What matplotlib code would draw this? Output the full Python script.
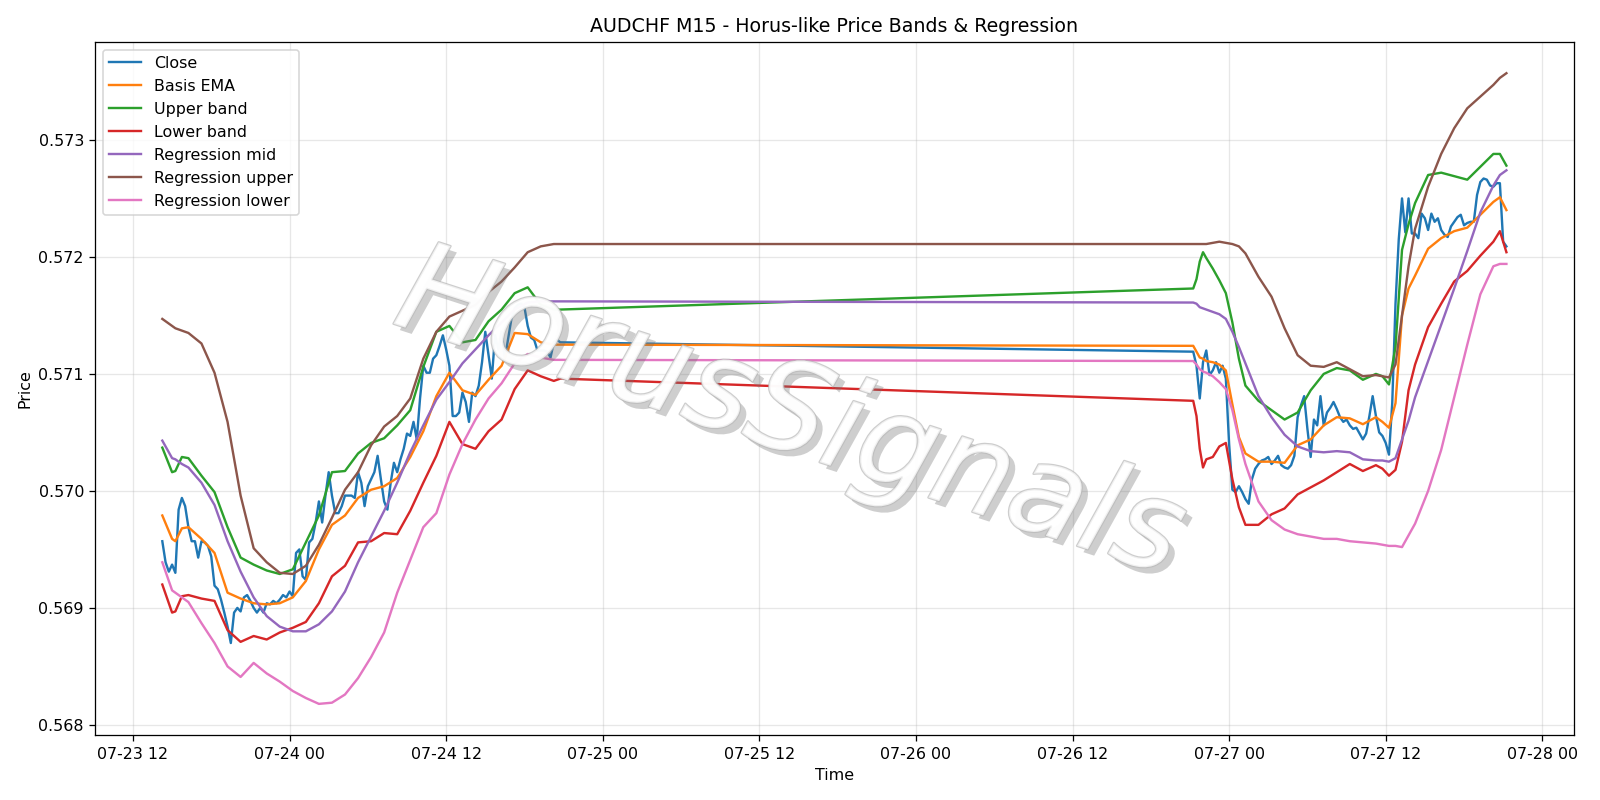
import pandas as pd
import matplotlib
matplotlib.use("Agg")
import matplotlib.pyplot as plt
import matplotlib.dates as mdates
import matplotlib.patheffects as pe

# 15 minute bars: Thursday afternoon -> Friday close, then Sunday open -> Monday evening
seg1_start = "2020-07-23 14:15"
seg2_start = "2020-07-26 21:15"

close_seg1 = [
    0.56957, 0.56939, 0.56931, 0.56937, 0.56930, 0.56984, 0.56994, 0.56987, 0.56969, 0.56957,
    0.56957, 0.56943, 0.56957, 0.56956, 0.56953, 0.56944, 0.56919, 0.56916, 0.56907, 0.56896,
    0.56884, 0.56870, 0.56896, 0.56900, 0.56897, 0.56909, 0.56911, 0.56906, 0.56900, 0.56896,
    0.56900, 0.56896, 0.56904, 0.56903, 0.56906, 0.56904, 0.56907, 0.56911, 0.56909, 0.56914,
    0.56910, 0.56947, 0.56950, 0.56927, 0.56924, 0.56956, 0.56959, 0.56973, 0.56991, 0.56973,
    0.56996, 0.57016, 0.56996, 0.56981, 0.56981, 0.56987, 0.56996, 0.56996, 0.56996, 0.56994,
    0.57016, 0.57007, 0.56987, 0.57004, 0.57010, 0.57016, 0.57030, 0.57010, 0.56991, 0.56984,
    0.57007, 0.57024, 0.57016, 0.57027, 0.57036, 0.57049, 0.57047, 0.57059, 0.57044, 0.57079,
    0.57107, 0.57101, 0.57101, 0.57113, 0.57116, 0.57124, 0.57133, 0.57121, 0.57107, 0.57064,
    0.57064, 0.57067, 0.57084, 0.57076, 0.57059, 0.57084, 0.57081, 0.57090, 0.57110, 0.57136,
    0.57116, 0.57096, 0.57133, 0.57121, 0.57136, 0.57113, 0.57130, 0.57147, 0.57156, 0.57159,
    0.57160, 0.57157, 0.57141, 0.57131, 0.57129, 0.57120, 0.57120, 0.57120, 0.57119, 0.57114,
    0.57127, 0.57129, 0.57127,
]
close_seg2 = [
    0.57119, 0.57107, 0.57079, 0.57110, 0.57120, 0.57099, 0.57103, 0.57110, 0.57101, 0.57107,
    0.57096, 0.57040, 0.57001, 0.56999, 0.57004, 0.56999, 0.56993, 0.56989, 0.57010, 0.57019,
    0.57023, 0.57026, 0.57027, 0.57029, 0.57023, 0.57026, 0.57030, 0.57022, 0.57020, 0.57019,
    0.57022, 0.57030, 0.57063, 0.57073, 0.57081, 0.57053, 0.57029, 0.57061, 0.57056, 0.57081,
    0.57056, 0.57067, 0.57071, 0.57076, 0.57070, 0.57063, 0.57059, 0.57061, 0.57056, 0.57053,
    0.57054, 0.57049, 0.57044, 0.57049, 0.57064, 0.57081, 0.57064, 0.57050, 0.57047, 0.57041,
    0.57031, 0.57075, 0.57160, 0.57215, 0.57250, 0.57221, 0.57250, 0.57220, 0.57220, 0.57216,
    0.57237, 0.57233, 0.57223, 0.57237, 0.57230, 0.57233, 0.57223, 0.57219, 0.57217, 0.57226,
    0.57230, 0.57234, 0.57236, 0.57227, 0.57229, 0.57230, 0.57230, 0.57253, 0.57264, 0.57267,
    0.57266, 0.57261, 0.57260, 0.57263, 0.57263, 0.57213, 0.57209,
]

band_idx_seg1 = [0, 3, 4, 6, 8, 12, 16, 20, 24, 28, 32, 36, 40, 44, 48, 52, 56, 60, 64, 68,
                 72, 76, 80, 84, 88, 92, 96, 100, 104, 108, 112, 116, 120, 122]
band_idx_seg2 = [0, 1, 2, 3, 4, 6, 8, 10, 12, 14, 16, 20, 24, 28, 32, 36, 40, 44, 48, 52,
                 56, 58, 60, 62, 64, 66, 68, 72, 76, 80, 84, 88, 92, 94, 96]

basis_ema = [
    0.56979, 0.56959, 0.56957, 0.56968, 0.56969, 0.56959, 0.56947, 0.56913, 0.56908, 0.56904,
    0.56903, 0.56904, 0.56909, 0.56923, 0.56950, 0.56971, 0.56979, 0.56994, 0.57001, 0.57004,
    0.57011, 0.57029, 0.57051, 0.57081, 0.57101, 0.57086, 0.57082, 0.57095, 0.57107, 0.57135,
    0.57134, 0.57127, 0.57125, 0.57125,
    0.57124, 0.57119, 0.57114, 0.57113, 0.57111, 0.57110, 0.57108, 0.57103, 0.57074, 0.57046,
    0.57032, 0.57025, 0.57025, 0.57024, 0.57039, 0.57044, 0.57056, 0.57063, 0.57062, 0.57057,
    0.57063, 0.57059, 0.57054, 0.57075, 0.57150, 0.57173, 0.57184, 0.57207, 0.57216, 0.57222,
    0.57225, 0.57236, 0.57247, 0.57251, 0.57240,
]
upper_band = [
    0.57037, 0.57016, 0.57017, 0.57029, 0.57028, 0.57013, 0.56999, 0.56969, 0.56943, 0.56937,
    0.56932, 0.56929, 0.56933, 0.56956, 0.56979, 0.57016, 0.57017, 0.57032, 0.57041, 0.57045,
    0.57056, 0.57069, 0.57106, 0.57136, 0.57141, 0.57127, 0.57129, 0.57145, 0.57155, 0.57169,
    0.57174, 0.57159, 0.57155, 0.57155,
    0.57173, 0.57181, 0.57196, 0.57204, 0.57199, 0.57190, 0.57180, 0.57169, 0.57144, 0.57113,
    0.57090, 0.57077, 0.57069, 0.57061, 0.57067, 0.57086, 0.57100, 0.57105, 0.57103, 0.57095,
    0.57100, 0.57098, 0.57091, 0.57123, 0.57206, 0.57228, 0.57246, 0.57270, 0.57272, 0.57269,
    0.57266, 0.57277, 0.57288, 0.57288, 0.57278,
]
lower_band = [
    0.56920, 0.56896, 0.56897, 0.56910, 0.56911, 0.56908, 0.56906, 0.56881, 0.56871, 0.56876,
    0.56873, 0.56879, 0.56883, 0.56888, 0.56904, 0.56927, 0.56936, 0.56956, 0.56957, 0.56964,
    0.56963, 0.56983, 0.57007, 0.57030, 0.57059, 0.57040, 0.57036, 0.57051, 0.57061, 0.57087,
    0.57103, 0.57098, 0.57094, 0.57096,
    0.57077, 0.57064, 0.57036, 0.57020, 0.57027, 0.57029, 0.57038, 0.57041, 0.57010, 0.56986,
    0.56971, 0.56971, 0.56980, 0.56985, 0.56997, 0.57003, 0.57009, 0.57016, 0.57023, 0.57017,
    0.57022, 0.57019, 0.57013, 0.57018, 0.57042, 0.57086, 0.57108, 0.57140, 0.57160, 0.57179,
    0.57188, 0.57201, 0.57213, 0.57222, 0.57204,
]
reg_mid = [
    0.57043, 0.57028, 0.57027, 0.57023, 0.57020, 0.57007, 0.56988, 0.56957, 0.56931, 0.56909,
    0.56893, 0.56884, 0.56880, 0.56880, 0.56886, 0.56897, 0.56914, 0.56939, 0.56961, 0.56983,
    0.57007, 0.57033, 0.57056, 0.57078, 0.57093, 0.57109, 0.57121, 0.57133, 0.57144, 0.57155,
    0.57161, 0.57162, 0.57162, 0.57162,
    0.57161, 0.57160, 0.57157, 0.57156, 0.57155, 0.57153, 0.57151, 0.57147, 0.57136, 0.57123,
    0.57109, 0.57081, 0.57063, 0.57048, 0.57038, 0.57034, 0.57033, 0.57034, 0.57033, 0.57027,
    0.57026, 0.57026, 0.57025, 0.57028, 0.57044, 0.57060, 0.57080, 0.57111, 0.57142, 0.57173,
    0.57205, 0.57238, 0.57261, 0.57270, 0.57274,
]
reg_upper = [
    0.57147, 0.57141, 0.57139, 0.57137, 0.57135, 0.57126, 0.57101, 0.57059, 0.56996, 0.56951,
    0.56939, 0.56930, 0.56929, 0.56936, 0.56954, 0.56977, 0.57001, 0.57016, 0.57039, 0.57055,
    0.57064, 0.57079, 0.57113, 0.57136, 0.57149, 0.57154, 0.57159, 0.57170, 0.57179, 0.57191,
    0.57204, 0.57209, 0.57211, 0.57211,
    0.57211, 0.57211, 0.57211, 0.57211, 0.57211, 0.57212, 0.57213, 0.57212, 0.57211, 0.57209,
    0.57203, 0.57183, 0.57166, 0.57139, 0.57116, 0.57107, 0.57106, 0.57110, 0.57104, 0.57098,
    0.57099, 0.57098, 0.57097, 0.57108, 0.57150, 0.57192, 0.57224, 0.57260, 0.57288, 0.57310,
    0.57327, 0.57337, 0.57347, 0.57353, 0.57357,
]
reg_lower = [
    0.56939, 0.56915, 0.56913, 0.56909, 0.56905, 0.56887, 0.56870, 0.56850, 0.56841, 0.56853,
    0.56844, 0.56837, 0.56829, 0.56823, 0.56818, 0.56819, 0.56826, 0.56840, 0.56858, 0.56879,
    0.56913, 0.56941, 0.56969, 0.56981, 0.57014, 0.57040, 0.57061, 0.57079, 0.57092, 0.57109,
    0.57117, 0.57114, 0.57112, 0.57112,
    0.57111, 0.57108, 0.57104, 0.57102, 0.57101, 0.57098, 0.57093, 0.57087, 0.57069, 0.57044,
    0.57023, 0.56991, 0.56975, 0.56967, 0.56963, 0.56961, 0.56959, 0.56959, 0.56957, 0.56956,
    0.56955, 0.56954, 0.56953, 0.56953, 0.56952, 0.56962, 0.56972, 0.57000, 0.57035, 0.57080,
    0.57125, 0.57168, 0.57192, 0.57194, 0.57194,
]

# time axes
times1 = pd.date_range(seg1_start, periods=len(close_seg1), freq="15min")
times2 = pd.date_range(seg2_start, periods=len(close_seg2), freq="15min")
close_time = times1.append(times2)
close = close_seg1 + close_seg2
band_time = times1[band_idx_seg1].append(times2[band_idx_seg2])

DPI = 1600 / 14
fig, ax = plt.subplots(figsize=(14, 7), dpi=DPI)

ax.plot(close_time, close, label="Close")
ax.plot(band_time, basis_ema, label="Basis EMA")
ax.plot(band_time, upper_band, label="Upper band")
ax.plot(band_time, lower_band, label="Lower band")
ax.plot(band_time, reg_mid, label="Regression mid")
ax.plot(band_time, reg_upper, label="Regression upper")
ax.plot(band_time, reg_lower, label="Regression lower")

# watermark
ax.text(0.47, 0.46, "HorusSignals", transform=ax.transAxes, ha="center", va="center",
        fontsize=79, rotation=-18, style="italic", color="white", alpha=0.7,
        path_effects=[pe.withSimplePatchShadow(offset=(4, -4), shadow_rgbFace="0.45", alpha=0.35),
                      pe.Stroke(linewidth=1.5, foreground="0.72"),
                      pe.Normal()])

ax.xaxis.set_major_locator(mdates.HourLocator(byhour=[0, 12]))
ax.xaxis.set_major_formatter(mdates.DateFormatter("%m-%d %H"))
ax.set_title("AUDCHF M15 - Horus-like Price Bands & Regression")
ax.set_xlabel("Time")
ax.set_ylabel("Price")
ax.grid(alpha=0.3)
ax.legend(loc="upper left")

plt.tight_layout()
plt.savefig("out.png", dpi=DPI)
